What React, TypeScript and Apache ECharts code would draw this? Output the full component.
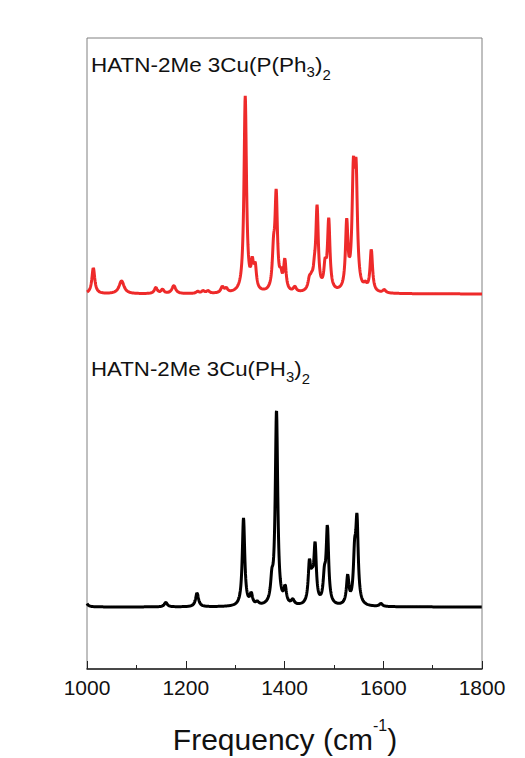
import { useEffect, useRef } from "react";
import * as echarts from "echarts";

// Axis ticks
const xTicks = [1000, 1200, 1400, 1600, 1800];

// Black spectrum: HATN-2Me 3Cu(PH3)2 — peak centres (cm-1), heights, half widths
const blackPeakPos = [996, 1159.6, 1222.9, 1317, 1332.6, 1344.8, 1374.4, 1383.8, 1401.3, 1416.8, 1450.5, 1456, 1462, 1480.8, 1486.9, 1528, 1542, 1546.8, 1595.3];
const blackPeakHeight = [8, 4.5, 14, 88, 11, 3, 20, 194, 16, 5, 38, 18, 56, 24, 76, 28, 44, 80, 3];
const blackPeakWidth = [3.5, 3.5, 3.5, 3, 3, 3.5, 3, 3, 3, 3.5, 3, 3.5, 3, 3, 3, 3, 3, 3, 3.5];
const blackBaseline = 62;

// Red spectrum: HATN-2Me 3Cu(P(Ph3)2
const redPeakPos = [1012.8, 1070, 1139.4, 1152.9, 1175.8, 1224, 1235, 1245, 1274, 1282, 1320.5, 1334.7, 1340.7, 1377.8, 1383.2, 1392.6, 1400.7, 1420.9, 1450.5, 1455, 1460.6, 1466, 1482.2, 1489.6, 1526, 1539.5, 1545, 1563.6, 1575.8, 1602];
const redPeakHeight = [26, 13, 6, 4, 8, 2, 2.5, 2.5, 6, 4, 196, 24, 22, 34, 94, 12, 30, 5, 10, 8, 14, 82, 22, 70, 66, 106, 106, 5, 42, 3];
const redPeakWidth = [3.5, 6, 3.5, 3.5, 4.5, 3.5, 3.5, 3.5, 3.5, 3.5, 3, 3, 3, 3, 3, 3, 3, 3.5, 3.5, 3.5, 3, 3, 3, 3, 3, 3.2, 3.2, 3.5, 3, 3.5];
const redBaseline = 375;

const FONT = '"Liberation Sans", Arial, sans-serif';

function spectrum(pos: number[], h: number[], w: number[], base: number) {
  const out: number[][] = [];
  for (let i = 0; i <= 1600; i++) {
    const x = 1000 + i * 0.5;
    let y = base;
    for (let k = 0; k < pos.length; k++) {
      const d = (x - pos[k]) / w[k];
      y += h[k] / (1 + d * d);
    }
    out.push([x, y]);
  }
  return out;
}

let measureCtx: CanvasRenderingContext2D | null = null;
function measure(text: string, size: number) {
  if (!measureCtx) measureCtx = document.createElement("canvas").getContext("2d");
  measureCtx!.font = `${size}px ${FONT}`;
  return measureCtx!.measureText(text).width;
}

type Seg = { t: string; size: number; dy: number };
function textRun(segs: Seg[], x0: number, baseline: number, color: string, center = false, sx = 1) {
  const widths = segs.map((s) => measure(s.t, s.size) * sx);
  const total = widths.reduce((a, b) => a + b, 0);
  let x = center ? x0 - total / 2 : x0;
  const els: any[] = [];
  segs.forEach((s, i) => {
    els.push({
      type: "text",
      x,
      y: baseline + s.dy - 0.35 * s.size,
      scaleX: sx,
      silent: true,
      style: {
        text: s.t,
        fontSize: s.size,
        fontFamily: FONT,
        fill: color,
        verticalAlign: "middle",
        align: "left",
      },
    });
    x += widths[i];
  });
  return els;
}

export default function App() {
  const ref = useRef<HTMLDivElement>(null);
  useEffect(() => {
    if (!ref.current) return;
    const chart = echarts.init(ref.current, null, { renderer: "svg" });
    const graphics = [
      ...textRun(
        [
          { t: "HATN-2Me 3Cu(P(Ph", size: 21, dy: 0 },
          { t: "3", size: 14, dy: 5 },
          { t: ")", size: 21, dy: 0 },
          { t: "2", size: 14, dy: 8 },
        ],
        91, 72, "#111", false, 1.07
      ),
      ...textRun(
        [
          { t: "HATN-2Me 3Cu(PH", size: 21, dy: 0 },
          { t: "3", size: 14, dy: 6 },
          { t: ")", size: 21, dy: 0 },
          { t: "2", size: 14, dy: 8 },
        ],
        91, 376, "#111", false, 1.06
      ),
      ...textRun(
        [
          { t: "Frequency (cm", size: 30, dy: 0 },
          { t: "-1", size: 16, dy: -19 },
          { t: ")", size: 30, dy: 0 },
        ],
        285, 750, "#111", true
      ),
    ];
    chart.setOption({
      animation: false,
      grid: { left: 87, right: 43, top: 38, bottom: 89, show: true, borderColor: "#808080", borderWidth: 1 },
      xAxis: {
        type: "value",
        min: xTicks[0],
        max: xTicks[xTicks.length - 1],
        interval: xTicks[1] - xTicks[0],
        axisLine: { show: true, lineStyle: { color: "#222", width: 1.5 } },
        axisTick: { show: true, inside: true, length: 8, lineStyle: { color: "#222", width: 1 } },
        minorTick: { show: true, splitNumber: 2, length: 4, lineStyle: { color: "#222", width: 1 } },
        axisLabel: {
          fontSize: 21,
          color: "#111",
          fontFamily: FONT,
          margin: 8,
          formatter: (v: number) => String(v),
        },
        splitLine: { show: false },
      },
      yAxis: { type: "value", min: 0, max: 631, show: false, splitLine: { show: false } },
      series: [
        {
          type: "line",
          data: spectrum(redPeakPos, redPeakHeight, redPeakWidth, redBaseline),
          showSymbol: false,
          lineStyle: { color: "#ee2a2a", width: 3 },
          silent: true,
        },
        {
          type: "line",
          data: spectrum(blackPeakPos, blackPeakHeight, blackPeakWidth, blackBaseline),
          showSymbol: false,
          lineStyle: { color: "#000", width: 3 },
          silent: true,
        },
      ],
      graphic: graphics,
    });
    return () => chart.dispose();
  }, []);
  return <div ref={ref} style={{ width: 525, height: 758, position: "absolute", left: 0, top: 0 }} />;
}
